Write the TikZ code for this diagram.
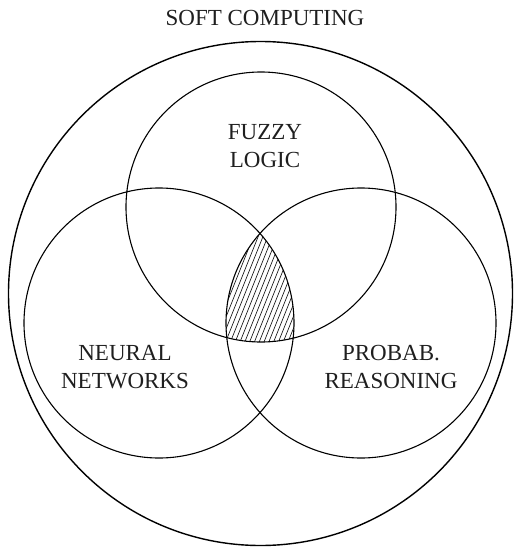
\documentclass[tikz,border=0pt]{standalone}
\usepackage{fontspec}
\setmainfont{Liberation Serif}
\usepackage{tikz}

\begin{document}
\begin{tikzpicture}[x=1pt, y=-1pt,
  universe/.style={draw, line width=1.4pt},
  set/.style={draw, line width=1.1pt},
  hatch/.style={line width=0.6pt},
  lbl/.style={font=\fontsize{23}{28}\selectfont, align=center, text=black!88, inner sep=0pt}]
\useasboundingbox (0,0) rectangle (516,552);
% centres of the sets
\coordinate (U) at (260.5,293.5);
\coordinate (F) at (261,207);
\coordinate (N) at (159,323);
\coordinate (P) at (361,323);

% hatched core (all three sets)
\begin{scope}
  \clip (F) circle (135);
  \clip (N) circle (135);
  \clip (P) circle (135);
  \foreach \i in {0,...,40}
    \draw[hatch] (180+\i*4.8,360) -- ++(60,-150);
\end{scope}

\draw[universe] (U) circle (252);
\draw[set] (F) circle (135);
\draw[set] (N) circle (135);
\draw[set] (P) circle (135);

\node[lbl] (soft) at (265,18) {SOFT COMPUTING};
\node[lbl] (fuzzy) at (265,146) {FUZZY\\LOGIC};
\node[lbl] (neural) at (125,367) {NEURAL\\NETWORKS};
\node[lbl] (prob) at (391,367) {PROBAB.\\REASONING};
\end{tikzpicture}
\end{document}
